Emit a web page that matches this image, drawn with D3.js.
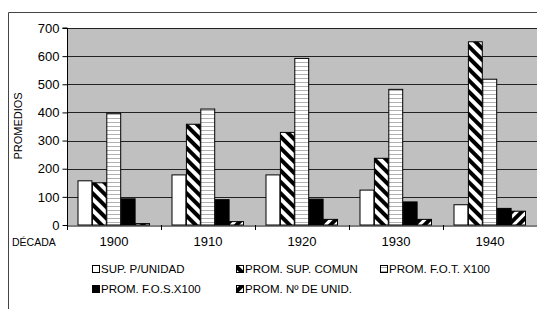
<!DOCTYPE html>
<html><head><meta charset="utf-8">
<script src="https://cdn.jsdelivr.net/npm/d3@7"></script>
<style>body{margin:0;background:#fff}svg{display:block;font-family:"Liberation Sans",Arial,sans-serif}</style>
</head><body><div id="c"></div>
<script>
const decades = ["1900","1910","1920","1930","1940"];
const seriesNames = ["SUP. P/UNIDAD","PROM. SUP. COMUN","PROM. F.O.T. X100","PROM. F.O.S.X100","PROM. Nº DE UNID."];
const supUnidad   = [157, 178, 178, 124, 72];
const supComun    = [150, 358, 329, 237, 651];
const fot         = [397, 412, 592, 482, 518];
const fos         = [93, 90, 92, 82, 59];
const nUnid       = [5, 12, 20, 20, 49];
const yTicks = [0,100,200,300,400,500,600,700];
const seriesValues = [supUnidad, supComun, fot, fos, nUnid];

(function(){
const W=537,H=309;
const svg=d3.select("#c").append("svg").attr("width",W).attr("height",H);
const defs=svg.append("defs");
const p2=defs.append("pattern").attr("id","p2").attr("patternUnits","userSpaceOnUse").attr("width",8).attr("height",8).attr("patternTransform","rotate(-45)");
p2.append("rect").attr("width",8).attr("height",8).attr("fill","#fff");
p2.append("rect").attr("x",0).attr("width",4).attr("height",8).attr("fill","#000");
const p3=defs.append("pattern").attr("id","p3").attr("patternUnits","userSpaceOnUse").attr("width",4).attr("height",4);
p3.append("rect").attr("width",4).attr("height",4).attr("fill","#fff");
p3.append("rect").attr("y",2).attr("width",4).attr("height",1).attr("fill","#b0b0b0");
const p5=defs.append("pattern").attr("id","p5").attr("patternUnits","userSpaceOnUse").attr("width",7).attr("height",7).attr("patternTransform","rotate(45)");
p5.append("rect").attr("width",7).attr("height",7).attr("fill","#fff");
p5.append("rect").attr("x",0).attr("width",4).attr("height",7).attr("fill","#000");
const fills=["#fff","url(#p2)","url(#p3)","#000","url(#p5)"];

svg.append("path").attr("d",`M8.5,${H} V12.5 H${W}`).attr("fill","none").attr("stroke","#444");

const pl=67,pr=537,pt=28,pb=225;
const x=d3.scaleBand().domain(decades).range([pl,pr]);
const xs=d3.scaleBand().domain(d3.range(5)).range([0,72]);
const y=d3.scaleLinear().domain([0,700]).range([pb,pt]);

svg.append("rect").attr("x",pl).attr("y",pt).attr("width",pr-pl).attr("height",pb-pt).attr("fill","#c0c0c0");
svg.append("g").selectAll("line").data(yTicks.slice(1)).join("line")
 .attr("x1",pl).attr("x2",pr).attr("y1",d=>Math.round(y(d))+0.5).attr("y2",d=>Math.round(y(d))+0.5)
 .attr("stroke","#222");

const gy=svg.append("g").attr("transform",`translate(${pl+0.5},0)`)
 .call(d3.axisLeft(y).tickValues(yTicks).tickSize(5).tickPadding(3).tickFormat(d3.format("d")));
gy.select(".domain").attr("stroke","#000").attr("d",`M-5,${y(700)}H0V${pb}`);
gy.selectAll("text").attr("font-size",13).attr("font-family","Liberation Sans, Arial").attr("fill","#000");

const groups=svg.append("g").selectAll("g").data(decades).join("g")
 .attr("transform",d=>`translate(${x(d)+10.5},0)`);
groups.selectAll("rect").data((d,i)=>seriesValues.map((s,k)=>({k,v:s[i]}))).join("rect")
 .attr("x",d=>xs(d.k)+0.5).attr("width",xs.bandwidth()-0.5)
 .attr("y",d=>y(d.v)).attr("height",d=>pb-y(d.v))
 .attr("fill",d=>fills[d.k]).attr("stroke","#000").attr("stroke-width",1);

const gx=svg.append("g").attr("transform",`translate(0,${pb+0.5})`)
 .call(d3.axisBottom(x).tickSize(0).tickPadding(11));
gx.select(".domain").attr("stroke","#000");
gx.selectAll("text").attr("font-size",13).attr("font-family","Liberation Sans, Arial").attr("fill","#000");
svg.append("g").selectAll("line").data(decades).join("line")
 .attr("x1",d=>Math.round(x(d))+0.5).attr("x2",d=>Math.round(x(d))+0.5).attr("y1",pb).attr("y2",pb+5).attr("stroke","#000");

svg.append("text").attr("x",12).attr("y",246).attr("font-size",10.5).text("DÉCADA");
svg.append("text").attr("transform","translate(22,126) rotate(-90)").attr("text-anchor","middle").attr("font-size",11).text("PROMEDIOS");

const legPos=[[92,269],[236,269],[380,269],[92,289],[236,289]];
const lg=svg.append("g").selectAll("g").data(seriesNames).join("g")
 .attr("transform",(d,i)=>`translate(${legPos[i][0]},${legPos[i][1]})`);
lg.append("rect").attr("x",0.5).attr("y",-3.5).attr("width",7).attr("height",7)
 .attr("fill",(d,i)=>fills[i]).attr("stroke","#000");
lg.append("text").attr("x",9).attr("y",4).attr("font-size",11.5).text(d=>d);
})();
</script></body></html>
